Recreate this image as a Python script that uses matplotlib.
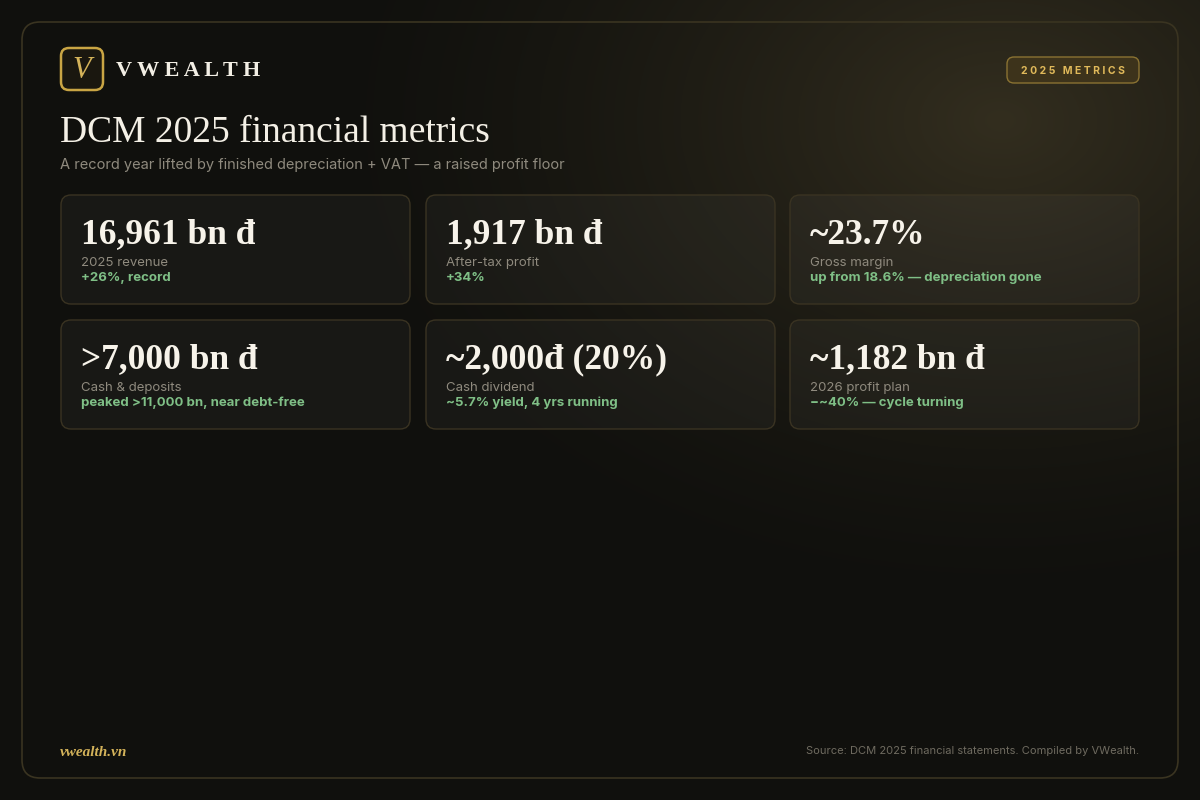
import matplotlib
matplotlib.use("Agg")
import matplotlib.pyplot as plt
import numpy as np
from matplotlib.patches import FancyBboxPatch

values = ["16,961 bn đ", "1,917 bn đ", "~23.7%", ">7,000 bn đ", "~2,000đ (20%)", "~1,182 bn đ"]
labels = ["2025 revenue", "After-tax profit", "Gross margin", "Cash & deposits", "Cash dividend", "2026 profit plan"]
notes = ["+26%, record", "+34%", "up from 18.6% — depreciation gone",
         "peaked >11,000 bn, near debt-free", "~5.7% yield, 4 yrs running", "−~40% — cycle turning"]

W, H = 1200, 800
fig = plt.figure(figsize=(12, 8), dpi=100)
fig.patch.set_facecolor("#0c0c0a")
ax = fig.add_axes([0, 0, 1, 1])
ax.set_xlim(0, W); ax.set_ylim(H, 0); ax.axis("off")

yy, xx = np.mgrid[0:H, 0:W]
d = np.sqrt(((xx - 1000) / 700) ** 2 + ((yy - 120) / 500) ** 2)
g = np.clip(1 - d, 0, 1) ** 1.5
base = np.array([0x10, 0x10, 0x0d]) / 255
glow = np.array([0x33, 0x2e, 0x1f]) / 255
img = base[None, None, :] * (1 - g[..., None]) + glow[None, None, :] * g[..., None]
ax.imshow(img, extent=[0, W, H, 0], zorder=0, aspect="auto")

ax.add_patch(FancyBboxPatch((22, 22), 1156, 756, boxstyle="round,pad=0,rounding_size=18",
                            fc="none", ec="#3a3421", lw=1.2, zorder=1))
SERIF = ["Liberation Serif", "DejaVu Serif"]
SANS = ["Inter", "DejaVu Sans"]

ax.add_patch(FancyBboxPatch((61, 48), 42, 42, boxstyle="round,pad=0,rounding_size=8",
                            fc="#1a170f", ec="#c9a544", lw=1.8, zorder=2))
ax.text(82, 70, "V", color="#d4b35a", fontsize=22, family=SERIF, style="italic",
        ha="center", va="center", zorder=3)
ax.text(116, 71, "V W E A L T H", color="#f2eee4", fontsize=16, family=SERIF, weight="bold",
        ha="left", va="center", zorder=3)

ax.add_patch(FancyBboxPatch((1007, 57), 132, 26, boxstyle="round,pad=0,rounding_size=7",
                            fc="#3d331b", ec="#8a7232", lw=1, zorder=2))
ax.text(1073, 70.5, "2 0 2 5   M E T R I C S", color="#e0b95a", fontsize=7.5, family=SANS, weight="bold",
        ha="center", va="center", zorder=3)

ax.text(60, 133, "DCM 2025 financial metrics", color="#f4f0e6", fontsize=27, family=SERIF,
        ha="left", va="center", zorder=3)
ax.text(60, 165, "A record year lifted by finished depreciation + VAT — a raised profit floor",
        color="#8f8a7e", fontsize=10.5, family=SANS, ha="left", va="center", zorder=3)

xs = [61, 426, 790]
ys = [195, 320]
cw, ch = 349, 109
for i in range(6):
    x = xs[i % 3]; y = ys[i // 3]
    ax.add_patch(FancyBboxPatch((x, y), cw, ch, boxstyle="round,pad=0,rounding_size=10",
                                fc=(1, 1, 1, 0.035), ec="#3a3322", lw=1, zorder=2))
    ax.text(x + 20, y + 40, values[i], color="#f7f3ea", fontsize=25.5, family=SERIF, weight="bold",
            ha="left", va="center", zorder=3)
    ax.text(x + 20, y + 68, labels[i], color="#8f8a7e", fontsize=9.5, family=SANS,
            ha="left", va="center", zorder=3)
    ax.text(x + 20, y + 83, notes[i], color="#7fbf86", fontsize=9.5, family=SANS, weight="bold",
            ha="left", va="center", zorder=3)

ax.text(60, 752, "vwealth.vn", color="#d4b35a", fontsize=11, family=SERIF, style="italic",
        weight="bold", ha="left", va="center", zorder=3)
ax.text(1139, 751, "Source: DCM 2025 financial statements. Compiled by VWealth.", color="#6f6b60",
        fontsize=8, family=SANS, ha="right", va="center", zorder=3)

fig.savefig("out.png", dpi=100, facecolor=fig.get_facecolor())
